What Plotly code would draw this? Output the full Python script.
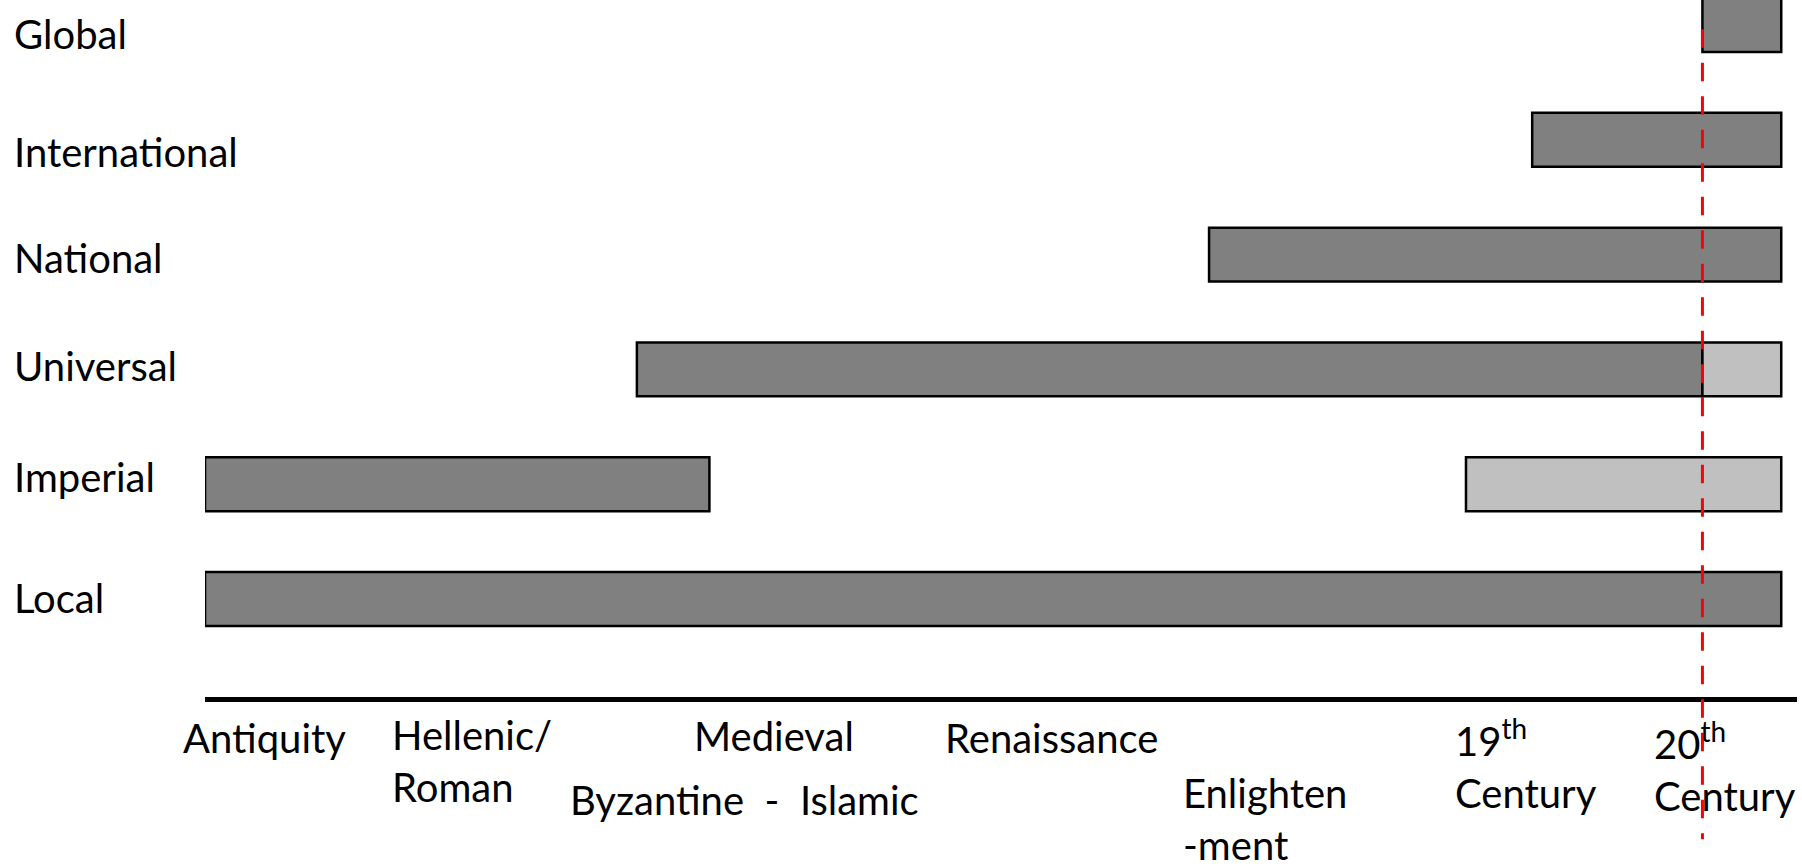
import plotly.graph_objects as go

# ---------------- data ----------------
categories = ["Local", "Imperial", "Universal", "National", "International", "Global"]

# dark (established) spans, in timeline units (0 = Antiquity, 100 = present)
dark_start = [0, 0, 27.4, 63.7, 84.2, 95]
dark_end = [100, 32, 95, 100, 100, 100]

# light (re-emerging) spans
light_cats = ["Imperial", "Universal"]
light_start = [80, 95]
light_end = [100, 100]

# present-day marker
now_x = 95

# period labels along the timeline
period_labels = ["Antiquity", "Hellenic/<br>Roman", "Medieval",
                 "Byzantine\u00a0\u00a0-\u00a0\u00a0Islamic", "Renaissance",
                 "Enlighten<br>-ment", "19<sup>th</sup><br>Century",
                 "20<sup>th</sup><br>Century"]
period_x = [3.8, 11.76, 36.1, 34.2, 53.7, 61.9, 79.2, 91.8]

# ---------------- styling ----------------
FONT = "Lato, 'Open Sans', sans-serif"
FS = 40
period_anchor = ["center", "left", "center", "center", "center", "left", "left", "left"]
period_shift = [-15, -12, -13, -77, -15, -70, -12, -15]
cat_shift = [1, 7, 3, -3, -12, -9]   # Local ... Global (pixels, + = up)

fig = go.Figure()
fig.add_trace(go.Bar(
    y=categories, base=dark_start,
    x=[e - s for s, e in zip(dark_start, dark_end)],
    orientation="h", width=0.47,
    marker=dict(color="#808080", line=dict(color="black", width=2.5)),
    showlegend=False, hoverinfo="skip"))
fig.add_trace(go.Bar(
    y=light_cats, base=light_start,
    x=[e - s for s, e in zip(light_start, light_end)],
    orientation="h", width=0.47,
    marker=dict(color="#C0C0C0", line=dict(color="black", width=2.5)),
    showlegend=False, hoverinfo="skip"))

fig.update_layout(barmode="overlay")

# red dashed "now" line
fig.add_shape(type="line", xref="x", yref="paper",
              x0=now_x, x1=now_x, y0=0.958, y1=-0.204,
              line=dict(color="#FF0000", width=3, dash="18.5px,15px"),
              layer="above")

# category labels (left aligned)
for c, sh in zip(categories, cat_shift):
    fig.add_annotation(x=-0.1215, xref="paper", y=c, yref="y",
                       text=c, showarrow=False, xanchor="left", yanchor="middle",
                       yshift=sh,
                       font=dict(family=FONT, size=FS, color="black"))

# period labels
for t, px, anc, sh in zip(period_labels, period_x, period_anchor, period_shift):
    fig.add_annotation(x=px, xref="x", y=0, yref="paper", text=t,
                       showarrow=False, xanchor=anc, yanchor="top", yshift=sh,
                       align="left" if anc == "left" else "center",
                       font=dict(family=FONT, size=FS, color="black"))

fig.update_xaxes(range=[0, 101], showgrid=False, zeroline=False,
                 showticklabels=False, ticks="",
                 showline=True, linecolor="black", linewidth=5)
fig.update_yaxes(range=[-0.854, 5.218], showgrid=False, zeroline=False,
                 showticklabels=False, ticks="", showline=False,
                 categoryorder="array", categoryarray=categories)

fig.update_layout(
    width=1802, height=864,
    margin=dict(l=205, r=5, t=0, b=167),
    paper_bgcolor="white", plot_bgcolor="white",
    font=dict(family=FONT, size=FS, color="black"),
)

fig.write_html("out.html",
               config={"displayModeBar": False, "staticPlot": True},
               post_script="document.body.style.margin='0';document.body.style.overflow='hidden';")
